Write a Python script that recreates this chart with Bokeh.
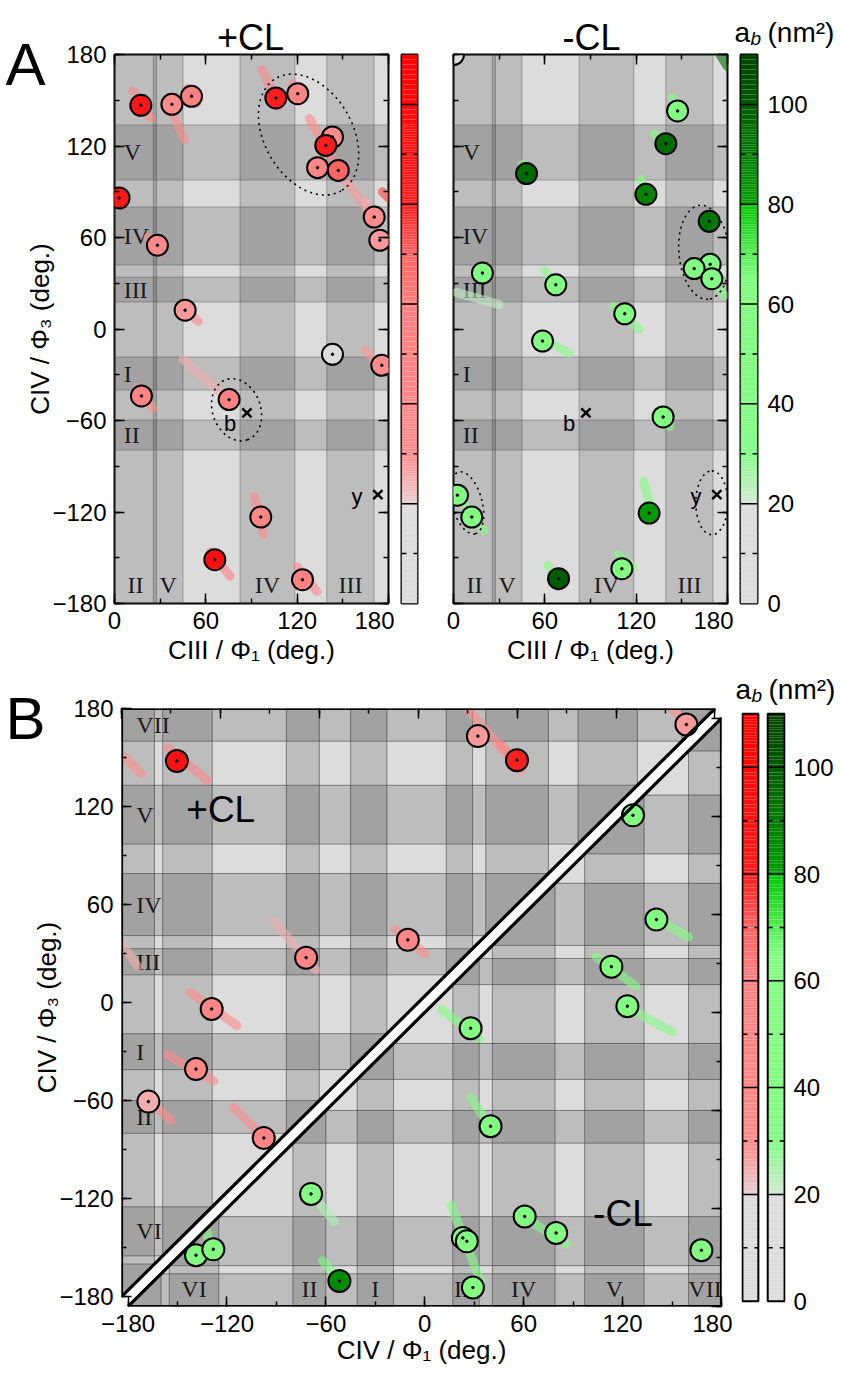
import numpy as np
from bokeh.plotting import figure
from bokeh.models import (Range1d, LinearAxis, SingleIntervalTicker, FixedTicker,
                          Label, CustomJSTickFormatter, GridBox)
from bokeh.layouts import row, column
from bokeh.embed import file_html
from bokeh.resources import INLINE
from bokeh.core.properties import value

SANS = "Liberation Sans"
SERIF = "Liberation Serif"

# ------------------------------------------------------------------ data
# Panel A bands (deg)
A_XBAND_NAME = ["II", "V", "IV", "III"]
A_XBAND_LO = [0.0, 25.5, 82.5, 139.5]
A_XBAND_HI = [27.5, 45.0, 118.5, 170.5]
A_YBAND_NAME = ["V", "IV", "III", "I", "II"]
A_YBAND_LO = [97.7, 42.0, 17.7, -40.0, -79.4]
A_YBAND_HI = [133.8, 80.0, 34.0, -18.4, -59.7]

# Panel A, +CL minima (Phi1, Phi3, a_b)
AP_X = [17.3, 37.7, 50.6, 106.0, 120.4, 143.2, 138.8, 133.4, 147.0, 3.0, 170.6,
        174.3, 28.2, 46.4, 143.2, 175.6, 17.7, 75.3, 96.1, 65.9, 123.5]
AP_Y = [146.7, 147.3, 152.6, 151.5, 154.3, 125.9, 120.4, 105.8, 104.0, 85.9, 73.4,
        58.2, 54.9, 12.3, -16.6, -23.8, -43.9, -46.3, -123.3, -151.3, -164.4]
AP_V = [88, 35, 55, 80, 50, 30, 80, 45, 70, 88, 30, 28, 38, 28, 15, 30, 50, 55, 45, 95, 55]
# Panel A, +CL trajectories (streaks)
AP_SX0 = [12, 36, 48, 97, 117, 128, 150, 176, 165, 22, 44, 165, 15, 45, 92, 63, 120, 0]
AP_SY0 = [156, 146, 158, 170, 161, 138, 100, 90, 84, 60, 14, -14, -38, -20, -110, -146, -156, 90]
AP_SX1 = [24, 46, 54, 108, 122, 150, 165, 180, 176, 30, 55, 178, 25, 72, 98, 76, 133, 5]
AP_SY1 = [138, 124, 148, 146, 150, 100, 80, 86, 55, 50, 5, -28, -52, -44, -135, -162, -172, 83]
AP_SV = [45, 30, 45, 45, 40, 35, 28, 75, 25, 35, 35, 28, 35, 25, 35, 55, 45, 85]

# Panel A, -CL minima
AM_X = [0.0, 147.2, 139.5, 48.0, 126.4, 168.0, 168.6, 158.1, 169.7, 19.0, 67.2, 112.5,
        58.5, 137.7, 2.6, 12.0, 128.5, 110.6, 69.0]
AM_Y = [180.0, 143.0, 121.5, 101.9, 88.3, 70.6, 42.4, 39.6, 33.0, 36.7, 29.0, 10.0,
        -7.9, -57.7, -109.0, -123.3, -120.7, -157.2, -163.7]
AM_V = [0, 45, 95, 95, 88, 92, 42, 42, 42, 35, 50, 45, 45, 45, 35, 48, 82, 45, 100]
AM_SX0 = [175, 144, 132, 45, 123, 163, 2, 60, 105, 58, 135, 0, 125, 108, 62]
AM_SY0 = [180, 152, 128, 108, 98, 42, 24, 38, 15, -6, -53, -105, -100, -148, -155]
AM_SX1 = [180, 148, 140, 50, 128, 178, 30, 70, 122, 76, 142, 20, 130, 118, 70]
AM_SY1 = [172, 143, 120, 98, 85, 22, 16, 26, 0, -16, -64, -132, -120, -156, -168]
AM_SV = [95, 35, 55, 55, 60, 40, 22, 40, 40, 40, 35, 35, 45, 45, 45]

# reference structures b and y
MARK_X = [87.0, 173.0]
MARK_Y = [-55.0, -108.6]
MARK_TEXT = ["b", "y"]

# dotted ellipses (x, y, major, minor, angle deg)
AP_EL_X = [127.5, 80.2]
AP_EL_Y = [127.5, -53.0]
AP_EL_W = [85.4, 42.0]
AP_EL_H = [57.8, 31.5]
AP_EL_A = [-60, -70]
AM_EL_X = [164.6, 8.9, 169.7]
AM_EL_Y = [50.3, -114.0, -114.0]
AM_EL_W = [62.0, 42.0, 42.0]
AM_EL_H = [33.0, 19.7, 21.0]
AM_EL_A = [-85, -75, 90]

# Panel B bands (CIV, both angles)
B_BAND_NAME = ["VII", "VI", "II", "I", "III", "IV", "V", "VII"]
B_BAND_LO = [-180, -155, -80, -41, 17, 41, 97, 160]
B_BAND_HI = [-160, -125, -60, -19, 33, 79, 133, 180]
B_BAND_SHOW = [False, True, True, True, True, True, True, True]

BP_X = [-146.4, -68.0, -6.3, -125.3, -134.8, -163.7, -93.7, 36.2, 59.9, 162.7]
BP_Y = [147.9, 27.5, 38.4, -3.9, -40.7, -60.6, -82.8, 163.1, 148.3, 170.2]
BP_V = [92, 45, 45, 45, 40, 25, 50, 28, 80, 28]
BP_SX0 = [-152, -180, 28, 50, 154, -14, -88, -180, -138, -152, -166, -112]
BP_SY0 = [156, 152, 182, 158, 180, 45, 50, 36, 6, -32, -58, -64]
BP_SX1 = [-128, -168, 62, 62, 164, 4, -62, -170, -110, -124, -150, -92]
BP_SY1 = [136, 140, 142, 145, 170, 30, 20, 22, -14, -48, -72, -84]
BP_SV = [45, 30, 30, 60, 30, 35, 25, 25, 35, 35, 30, 35]

BM_X = [126.3, 140.5, 113.2, 122.9, 27.8, 39.9, -69.0, -138.8, -128.3, -51.8, 23.1, 25.5,
        29.2, 60.6, 79.7, 167.8]
BM_Y = [120.6, 56.8, 28.0, 3.8, -9.7, -69.7, -111.1, -148.6, -145.0, -164.4, -138.0, -140.1,
        -168.4, -124.9, -135.0, -145.6]
BM_V = [45, 45, 45, 45, 45, 45, 30, 45, 45, 85, 42, 42, 45, 45, 45, 45]
BM_SX0 = [10, 28, 138, 104, 118, -68, -132, -62, 16, 60]
BM_SY0 = [2, -52, 59, 34, 6, -112, -134, -152, -118, -125]
BM_SX1 = [33, 42, 160, 128, 150, -55, -130, -50, 34, 86]
BM_SY1 = [-16, -74, 46, 16, -12, -128, -150, -166, -165, -142]
BM_SV = [45, 40, 45, 40, 40, 25, 45, 45, 35, 40]

CB_TICKS = [0, 20, 40, 60, 80, 100]
CB_MAX = 110

# free texts of the figure
PANEL_LETTERS = ["A", "B"]
PANEL_TITLES = ["+CL", "-CL"]

# ------------------------------------------------------------------ styles
BASE = "#dcdcdc"
RED_STOPS = [(0, "#dcdcdc"), (20, "#dcdcdc"), (20.01, "#e6cfcf"), (30, "#ff8c8c"),
             (60, "#ff8080"), (70, "#ff6464"), (80, "#ff1e1e"), (110, "#ff0000")]
GREEN_STOPS = [(0, "#dcdcdc"), (20, "#dcdcdc"), (20.01, "#d3e9d3"), (30, "#84fb84"),
               (65, "#80ff80"), (80, "#00c800"), (80.01, "#00a000"), (90, "#007c00"),
               (100, "#005c00"), (110, "#004400")]
STREAK_W = 9
STREAK_ALPHA = 0.6
BAND_ALPHA = 0.14


def hex2rgb(h):
    h = h.lstrip("#")
    return tuple(int(h[i:i + 2], 16) for i in (0, 2, 4))


def cmap(stops, v):
    v = max(stops[0][0], min(stops[-1][0], v))
    for (v0, c0), (v1, c1) in zip(stops[:-1], stops[1:]):
        if v0 <= v <= v1:
            t = 0.0 if v1 == v0 else (v - v0) / (v1 - v0)
            a, b = hex2rgb(c0), hex2rgb(c1)
            return "#%02x%02x%02x" % tuple(int(round(x + (y - x) * t)) for x, y in zip(a, b))
    return stops[-1][1]


def style_axis(ax, show_labels, font_size="24px", title=None):
    ax.ticker = SingleIntervalTicker(interval=60, num_minor_ticks=2)
    ax.major_tick_in = 10
    ax.major_tick_out = 0
    ax.minor_tick_in = 5
    ax.minor_tick_out = 0
    ax.major_tick_line_color = "black"
    ax.minor_tick_line_color = "black"
    ax.major_tick_line_width = 1.5
    ax.minor_tick_line_width = 1.5
    ax.axis_line_color = None
    ax.major_label_text_font = SANS
    ax.major_label_text_font_size = font_size
    ax.major_label_text_color = "black"
    if show_labels:
        ax.major_label_standoff = 8
    else:
        ax.formatter = CustomJSTickFormatter(code="return ''")
        ax.major_label_standoff = 0
    if title:
        ax.axis_label = title
        ax.axis_label_text_font = SANS
        ax.axis_label_text_font_style = "normal"
        ax.axis_label_text_font_size = "26px"
        ax.axis_label_text_color = "black"


A_H = 672
A_TOP = 54
A_BOT = A_H - A_TOP - 549


def panel_a(cx, cy, cv, sx0, sy0, sx1, sy1, sv, stops, ex, ey, ew, eh, ea,
            width, bl, br, left_labels):
    p = figure(width=width, height=A_H, x_range=Range1d(0, 180), y_range=Range1d(-180, 180),
               x_axis_location=None, y_axis_location=None, toolbar_location=None,
               output_backend="svg", min_border_left=bl, min_border_right=br,
               min_border_top=A_TOP, min_border_bottom=A_BOT,
               background_fill_color=BASE, border_fill_color="white",
               outline_line_color="black", outline_line_width=2)
    p.grid.visible = False
    p.quad(left=A_XBAND_LO, right=A_XBAND_HI, bottom=-180, top=180, fill_color="black",
           fill_alpha=BAND_ALPHA, line_color="#555555", line_alpha=0.45, line_width=1)
    p.quad(left=0, right=180, bottom=A_YBAND_LO, top=A_YBAND_HI, fill_color="black",
           fill_alpha=BAND_ALPHA, line_color="#555555", line_alpha=0.45, line_width=1)
    p.text(x=[6] * len(A_YBAND_NAME), y=[(a + b) / 2 for a, b in zip(A_YBAND_LO, A_YBAND_HI)],
           text=A_YBAND_NAME, text_font=value(SERIF), text_font_size="24px",
           text_align="left", text_baseline="middle", text_color="#1a1a1a")
    p.text(x=[(a + b) / 2 for a, b in zip(A_XBAND_LO, A_XBAND_HI)], y=[-168] * len(A_XBAND_NAME),
           text=A_XBAND_NAME, text_font=value(SERIF), text_font_size="24px",
           text_align="center", text_baseline="middle", text_color="#1a1a1a")
    p.segment(x0=sx0, y0=sy0, x1=sx1, y1=sy1, line_color=[cmap(stops, v) for v in sv],
              line_width=STREAK_W, line_alpha=STREAK_ALPHA, line_cap="round")
    p.scatter(cx, cy, size=21, fill_color=[cmap(stops, v) for v in cv],
              line_color="black", line_width=2)
    p.scatter(cx, cy, size=2.5, color="black")
    p.ellipse(x=ex, y=ey, width=ew, height=eh, angle=ea, angle_units="deg",
              fill_color=None, line_color="black", line_dash="dotted", line_width=1.6)
    p.scatter(MARK_X, MARK_Y, marker="x", size=13, line_color="black", line_width=2.5)
    p.text(x=[MARK_X[0] - 7, MARK_X[1] - 10], y=[MARK_Y[0] - 7, MARK_Y[1] - 1], text=MARK_TEXT,
           text_font=value(SANS), text_font_size="22px", text_align="right",
           text_baseline="middle")
    left = LinearAxis()
    style_axis(left, left_labels, title="CIV / Φ₃ (deg.)" if left_labels else None)
    if left_labels:
        left.axis_label_standoff = -6
    p.add_layout(left, "left")
    bottom = LinearAxis()
    style_axis(bottom, True, title="CIII / Φ₁ (deg.)")
    bottom.axis_label_standoff = 3
    p.add_layout(bottom, "below")
    top = LinearAxis()
    style_axis(top, False)
    p.add_layout(top, "above")
    right = LinearAxis()
    style_axis(right, False)
    p.add_layout(right, "right")
    return p


def colorbar_a(stops, width, bl, br, labels):
    p = figure(width=width, height=A_H, x_range=Range1d(0, 17), y_range=Range1d(0, CB_MAX),
               x_axis_location=None, y_axis_location=None, toolbar_location=None,
               output_backend="svg", min_border_left=bl, min_border_right=br,
               min_border_top=A_TOP, min_border_bottom=A_BOT,
               outline_line_color="black", outline_line_width=2)
    p.grid.visible = False
    lev = np.arange(0, CB_MAX, 0.5)
    p.quad(left=0, right=17, bottom=lev, top=lev + 0.5,
           fill_color=[cmap(stops, v + 0.25) for v in lev], line_color=None)
    p.segment(x0=0, x1=17, y0=CB_TICKS[1:], y1=CB_TICKS[1:], line_color="black", line_width=1.5)
    mids = [t + 10 for t in CB_TICKS[:-1]]
    p.segment(x0=0, x1=17, y0=mids, y1=mids, line_color="black", line_width=1.5,
              line_dash="5 7")
    if labels:
        ax = LinearAxis(ticker=FixedTicker(ticks=CB_TICKS))
        ax.major_tick_in = 0
        ax.major_tick_out = 0
        ax.minor_tick_in = 0
        ax.minor_tick_out = 0
        ax.axis_line_color = None
        ax.major_label_standoff = 10
        ax.major_label_text_font = SANS
        ax.major_label_text_font_size = "24px"
        ax.major_label_text_color = "black"
        p.add_layout(ax, "right")
    return p


a1 = panel_a(AP_X, AP_Y, AP_V, AP_SX0, AP_SY0, AP_SX1, AP_SY1, AP_SV, RED_STOPS,
             AP_EL_X, AP_EL_Y, AP_EL_W, AP_EL_H, AP_EL_A, 394, 114, 6, True)
cb1 = colorbar_a(RED_STOPS, 30, 7, 7, False)
a2 = panel_a(AM_X, AM_Y, AM_V, AM_SX0, AM_SY0, AM_SX1, AM_SY1, AM_SV, GREEN_STOPS,
             AM_EL_X, AM_EL_Y, AM_EL_W, AM_EL_H, AM_EL_A, 309, 29, 6, False)
cb2 = colorbar_a(GREEN_STOPS, 103, 7, 79, True)

# ------------------------------------------------------------------ panel B
BSX, BSY = 4, 6
B_W, B_H = 732, 708
b = figure(width=B_W, height=B_H, x_range=Range1d(-180, 180 + BSX),
           y_range=Range1d(-180 - BSY, 180), x_axis_location=None, y_axis_location=None,
           toolbar_location=None, output_backend="svg", min_border_left=121,
           min_border_right=11, min_border_top=36, min_border_bottom=B_H - 36 - 603,
           background_fill_color="white", outline_line_color=None)
b.grid.visible = False
b.extra_x_ranges = {"low": Range1d(-180 - BSX, 180)}
b.extra_y_ranges = {"low": Range1d(-180, 180 + BSY)}
lowkw = {"x_range_name": "low", "y_range_name": "low"}


def clip_half(poly, sign):
    out = []
    n = len(poly)
    for i in range(n):
        c, d = poly[i], poly[(i + 1) % n]
        fc, fd = sign * (c[1] - c[0]), sign * (d[1] - d[0])
        if fc >= 0:
            out.append(c)
        if (fc >= 0) != (fd >= 0):
            t = fc / (fc - fd)
            out.append((c[0] + t * (d[0] - c[0]), c[1] + t * (d[1] - c[1])))
    return out


for sign, kw in [(1, {}), (-1, lowkw)]:
    tri = [(-180, -180), (-180, 180), (180, 180)] if sign > 0 else [(-180, -180), (180, -180), (180, 180)]
    b.patch([q[0] for q in tri], [q[1] for q in tri], fill_color=BASE, line_color=None, **kw)
    xs, ys = [], []
    for lo, hi in zip(B_BAND_LO, B_BAND_HI):
        for rect in ([(lo, -180), (hi, -180), (hi, 180), (lo, 180)],
                     [(-180, lo), (180, lo), (180, hi), (-180, hi)]):
            poly = clip_half(rect, sign)
            if len(poly) >= 3:
                xs.append([q[0] for q in poly])
                ys.append([q[1] for q in poly])
    b.patches(xs, ys, fill_color="black", fill_alpha=BAND_ALPHA, line_color="#444444",
              line_alpha=0.6, line_width=1, **kw)

# band labels
b.text(x=[-171] * sum(B_BAND_SHOW),
       y=[(lo + hi) / 2 for lo, hi, s in zip(B_BAND_LO, B_BAND_HI, B_BAND_SHOW) if s],
       text=[n for n, s in zip(B_BAND_NAME, B_BAND_SHOW) if s], text_font=value(SERIF),
       text_font_size="24px", text_align="left", text_baseline="middle", text_color="#1a1a1a")
b.text(x=[(lo + hi) / 2 for lo, hi, s in zip(B_BAND_LO, B_BAND_HI, B_BAND_SHOW) if s],
       y=[-169] * sum(B_BAND_SHOW),
       text=[n for n, s in zip(B_BAND_NAME, B_BAND_SHOW) if s], text_font=value(SERIF),
       text_font_size="24px", text_align="center", text_baseline="middle", text_color="#1a1a1a",
       **lowkw)

# +CL half
b.segment(x0=BP_SX0, y0=BP_SY0, x1=BP_SX1, y1=BP_SY1,
          line_color=[cmap(RED_STOPS, v) for v in BP_SV], line_width=STREAK_W,
          line_alpha=STREAK_ALPHA, line_cap="round")
b.scatter(BP_X, BP_Y, size=22, fill_color=[cmap(RED_STOPS, v) for v in BP_V],
          line_color="black", line_width=2)
b.scatter(BP_X, BP_Y, size=2.5, color="black")
# -CL half
b.segment(x0=BM_SX0, y0=BM_SY0, x1=BM_SX1, y1=BM_SY1,
          line_color=[cmap(GREEN_STOPS, v) for v in BM_SV], line_width=STREAK_W,
          line_alpha=STREAK_ALPHA, line_cap="round", **lowkw)
b.scatter(BM_X, BM_Y, size=22, fill_color=[cmap(GREEN_STOPS, v) for v in BM_V],
          line_color="black", line_width=2, **lowkw)
b.scatter(BM_X, BM_Y, size=2.5, color="black", **lowkw)

# triangle borders
b.line([-180, -180, 180, -180], [-180, 180, 180, -180], line_color="black", line_width=3.2)
b.line([-180, 180, 180, -180], [-180, -180, 180, -180], line_color="black", line_width=3.2,
       **lowkw)

b.add_layout(Label(x=-119.8, y=118.4, text=PANEL_TITLES[0], text_font=SANS,
                   text_font_size="37px", text_align="center", text_baseline="middle",
                   text_color="black"))
b.add_layout(Label(x=120.2, y=-123.3, text=PANEL_TITLES[1], text_font=SANS,
                   text_font_size="37px", text_align="center", text_baseline="middle",
                   text_color="black", **lowkw))

bl_ax = LinearAxis()
style_axis(bl_ax, True, title="CIV / Φ₃ (deg.)")
bl_ax.axis_label_standoff = -6
b.add_layout(bl_ax, "left")
bb_ax = LinearAxis(x_range_name="low")
style_axis(bb_ax, True, title="CIV / Φ₁ (deg.)")
bb_ax.axis_label_standoff = 0
b.add_layout(bb_ax, "below")
bt_ax = LinearAxis()
style_axis(bt_ax, False)
b.add_layout(bt_ax, "above")
br_ax = LinearAxis(y_range_name="low")
style_axis(br_ax, False)
b.add_layout(br_ax, "right")

# panel B colour bars
bcb = figure(width=104, height=B_H, x_range=Range1d(-1, 46), y_range=Range1d(-1, CB_MAX + 1),
             x_axis_location=None, y_axis_location=None, toolbar_location=None,
             output_backend="svg", min_border_left=9, min_border_right=48,
             min_border_top=31, min_border_bottom=B_H - 31 - 603, outline_line_color=None)
bcb.grid.visible = False
lev = np.arange(0, CB_MAX, 0.5)
for (x0, x1), stops in [((0, 17), RED_STOPS), ((27, 45), GREEN_STOPS)]:
    bcb.quad(left=x0, right=x1, bottom=lev, top=lev + 0.5,
             fill_color=[cmap(stops, v + 0.25) for v in lev], line_color=None)
    bcb.segment(x0=x0, x1=x1, y0=CB_TICKS[1:], y1=CB_TICKS[1:], line_color="black",
                line_width=1.5)
    mids = [t + 10 for t in CB_TICKS[:-1]]
    bcb.segment(x0=x0, x1=x1, y0=mids, y1=mids, line_color="black", line_width=1.5,
                line_dash="5 7")
    bcb.quad(left=x0, right=x1, bottom=0, top=CB_MAX, fill_color=None, line_color="black",
             line_width=2)
cax = LinearAxis(ticker=FixedTicker(ticks=CB_TICKS))
cax.major_tick_in = 0
cax.major_tick_out = 0
cax.minor_tick_in = 0
cax.minor_tick_out = 0
cax.axis_line_color = None
cax.major_label_standoff = 8
cax.major_label_text_font = SANS
cax.major_label_text_font_size = "24px"
cax.major_label_text_color = "black"
bcb.add_layout(cax, "right")

main = column(row(a1, cb1, a2, cb2), row(b, bcb))

# ------------------------------------------------------------------ transparent text layer
PAGE_W, PAGE_H = 836, 1380
ov = figure(width=PAGE_W, height=PAGE_H, x_range=Range1d(8, 8 + PAGE_W),
            y_range=Range1d(8 + PAGE_H, 8), x_axis_location=None, y_axis_location=None,
            toolbar_location=None, output_backend="svg", min_border=0,
            border_fill_color=None, background_fill_color=None, outline_line_color=None)
ov.grid.visible = False
ov.text(x=[13, 13], y=[72, 726], text=PANEL_LETTERS, text_font=value(SANS),
        text_font_size="60px", text_align="left", text_baseline="alphabetic",
        text_color="black")
ov.text(x=[258, 599], y=[45, 45], text=PANEL_TITLES, text_font=value(SANS),
        text_font_size="36px", text_align="center", text_baseline="alphabetic",
        text_color="black")
ov.text(x=[742, 743], y=[40, 697], text=["a", "a"], text_font=value(SANS),
        text_font_size="28px", text_align="left", text_baseline="alphabetic",
        text_color="black")
ov.text(x=[758, 759], y=[46, 703], text=["b", "b"], text_font=value(SANS),
        text_font_size="19px", text_font_style="italic", text_align="left",
        text_baseline="alphabetic", text_color="black")
ov.text(x=[775, 776], y=[40, 697], text=["(nm²)", "(nm²)"], text_font=value(SANS),
        text_font_size="28px", text_align="left", text_baseline="alphabetic",
        text_color="black")

layout = GridBox(children=[(main, 0, 0), (ov, 0, 0)])
open("out.html", "w").write(file_html(layout, INLINE))
